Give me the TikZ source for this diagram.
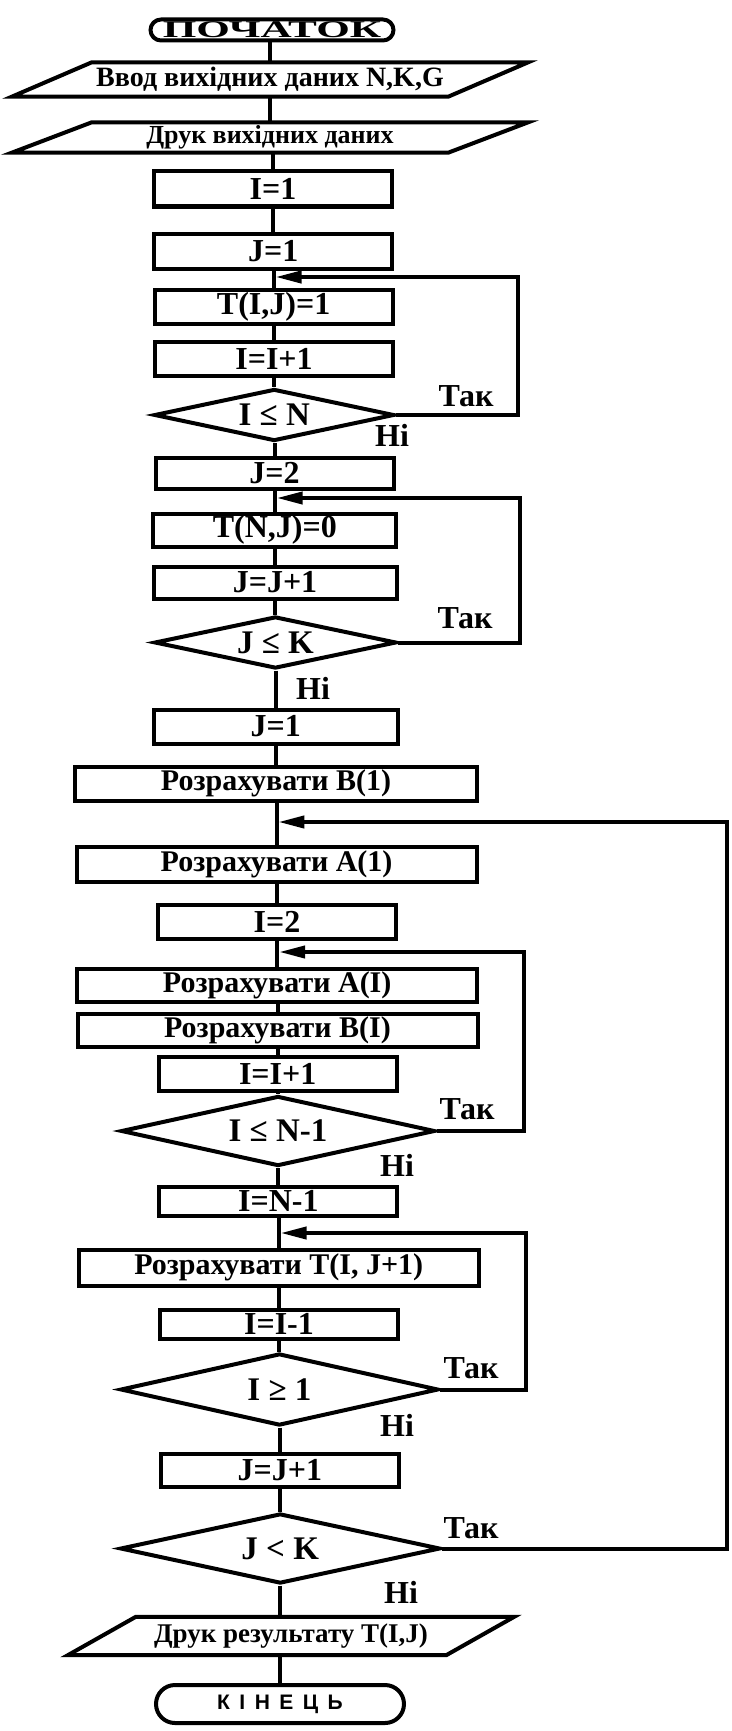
\documentclass[tikz,border=0pt]{standalone}
\usepackage{fontspec}
\setmainfont{Liberation Serif}
\newfontfamily\endfont[LetterSpace=45]{Liberation Sans}
\usetikzlibrary{shapes.geometric,arrows.meta,calc}
\tikzset{
  ln/.style={line width=4pt},
  box/.style={draw, rectangle, line width=4pt, inner sep=0pt, fill=white, font=\bfseries\fontsize{32}{32}\selectfont},
  nbox/.style={box, minimum width=238pt},
  wbox/.style={box, minimum width=402pt, font=\bfseries\fontsize{30}{30}\selectfont},
  dec/.style={draw, diamond, aspect=4.4, line width=4pt, inner sep=0pt, fill=white, font=\bfseries\fontsize{33}{33}\selectfont},
  pbox/.style={rectangle, inner sep=0pt, font=\bfseries\fontsize{26}{26}\selectfont},
  term/.style={draw, rectangle, line width=4pt, inner sep=0pt, fill=white},
  lbl/.style={inner sep=0pt, font=\bfseries\fontsize{32}{32}\selectfont},
  back/.style={ln, -{Triangle[length=26pt,width=12pt]}, shorten >=2pt}
}
\begin{document}
\begin{tikzpicture}[x=1pt,y=-1pt]
\useasboundingbox (0,0) rectangle (731,1731);
% terminals and parallelograms
\node[term, minimum width=243pt, minimum height=21pt, rounded corners=10.5pt] (start) at (272,30)
  {\bfseries\fontsize{24}{24}\selectfont\scalebox{1.8}[1]{ПОЧАТОК}};
\node[pbox, minimum width=436pt, minimum height=34pt, font=\bfseries\fontsize{28}{28}\selectfont] (p1) at (270,79.5) {Ввод вихідних даних N,K,G};
\draw[ln] ($(p1.south west)+(-40,0)$) -- ($(p1.south east)+(-40,0)$) -- ($(p1.north east)+(40,0)$) -- ($(p1.north west)+(40,0)$) -- cycle;
\node[pbox, minimum width=436pt, minimum height=30pt] (p2) at (270,137.5) {Друк вихідних даних};
\draw[ln] ($(p2.south west)+(-40,0)$) -- ($(p2.south east)+(-40,0)$) -- ($(p2.north east)+(40,0)$) -- ($(p2.north west)+(40,0)$) -- cycle;
% first loop
\node[nbox, minimum height=35pt] (i1) at (273,189) {I=1};
\node[nbox, minimum height=35pt] (j1) at (273.3,251) {J=1};
\node[nbox, minimum height=34pt] (t1) at (273.6,306.5) {T(I,J)=1};
\node[nbox, minimum height=34pt] (ii1) at (274,358.5) {I=I+1};
\node[dec, minimum width=240pt, minimum height=52pt] (d1) at (274.2,415) {I ≤ N};
% second loop
\node[nbox, minimum height=31pt] (j2) at (274.5,473) {J=2};
\node[nbox, minimum width=243pt, minimum height=33pt] (t2) at (274.8,530) {T(N,J)=0};
\node[nbox, minimum width=243pt, minimum height=32pt] (jj1) at (275,582.5) {J=J+1};
\node[dec, minimum width=242pt, minimum height=52pt] (d2) at (275.4,642.5) {J ≤ K};
% main part
\node[nbox, minimum width=244pt, minimum height=34pt] (j3) at (275.8,726.5) {J=1};
\node[wbox, minimum height=34pt] (b1) at (276,783.5) {Розрахувати B(1)};
\node[wbox, minimum width=400pt, minimum height=35pt] (a1) at (276.6,864) {Розрахувати A(1)};
\node[nbox, minimum height=34pt] (i2) at (277,921.5) {I=2};
\node[wbox, minimum width=400pt, minimum height=33pt] (aI) at (277.2,985) {Розрахувати A(I)};
\node[wbox, minimum width=400pt, minimum height=33pt] (bI) at (277.5,1030) {Розрахувати B(I)};
\node[nbox, minimum height=34pt] (ii2) at (277.7,1073.5) {I=I+1};
\node[dec, minimum width=314pt, minimum height=70pt] (d3) at (278,1131) {I ≤ N-1};
\node[nbox, minimum height=29pt] (in1) at (278.4,1201) {I=N-1};
\node[wbox, minimum width=400pt, minimum height=36pt] (tij) at (278.7,1267.5) {Розрахувати T(I, J+1)};
\node[nbox, minimum height=29pt] (im1) at (279,1324) {I=I-1};
\node[dec, minimum width=318pt, minimum height=72pt] (d4) at (279.4,1389.5) {I ≥ 1};
\node[nbox, minimum height=33pt] (jj2) at (279.8,1470) {J=J+1};
\node[dec, minimum width=320pt, minimum height=70pt] (d5) at (280.2,1548.5) {J < K};
\node[pbox, minimum width=378pt, minimum height=38pt, font=\bfseries\fontsize{27}{27}\selectfont] (p3) at (291,1636) {Друк результату T(I,J)};
\draw[ln] ($(p3.south west)+(-34,0)$) -- ($(p3.south east)+(-34,0)$) -- ($(p3.north east)+(34,0)$) -- ($(p3.north west)+(34,0)$) -- cycle;
\node[term, minimum width=248pt, minimum height=38pt, rounded corners=19pt] (end) at (280,1704)
  {\endfont\bfseries\fontsize{21}{21}\selectfont КІНЕЦЬ};
% main flow
\foreach \a/\b in {start/p1,p1/p2,p2/i1,i1/j1,j1/t1,t1/ii1,ii1/d1,d1/j2,j2/t2,t2/jj1,jj1/d2,d2/j3,j3/b1,b1/a1,a1/i2,i2/aI,aI/bI,bI/ii2,ii2/d3,d3/in1,in1/tij,tij/im1,im1/d4,d4/jj2,jj2/d5,p3/end}
  \draw[ln] (\b.north |- \a.south) -- (\b.north);
\draw[ln] (d5.south) -- (d5.south |- p3.north);
% loop junctions and corners
\coordinate (jn1) at (273.5,277);  \coordinate (r1) at (518,277);
\coordinate (jn2) at (274.7,498);  \coordinate (r2) at (520,498);
\coordinate (jn3) at (276.3,822);  \coordinate (r3) at (727,822);
\coordinate (jn4) at (277.1,952);  \coordinate (r4) at (524,952);
\coordinate (jn5) at (278.6,1233); \coordinate (r5) at (526,1233);
\draw[back] (d1.east) -| (r1) -- (jn1);
\draw[back] (d2.east) -| (r2) -- (jn2);
\draw[back] (d5.east) -| (r3) -- (jn3);
\draw[back] (d3.east) -| (r4) -- (jn4);
\draw[back] (d4.east) -| (r5) -- (jn5);
% labels
\node[lbl] (y1) at (466,396) {Так};
\node[lbl] (n1) at (392,435) {Ні};
\node[lbl] (y2) at (465,618) {Так};
\node[lbl] (n2) at (313,688) {Ні};
\node[lbl] (y3) at (467,1109) {Так};
\node[lbl] (n3) at (397,1165) {Ні};
\node[lbl] (y4) at (471,1368) {Так};
\node[lbl] (n4) at (397,1425) {Ні};
\node[lbl] (y5) at (471,1528) {Так};
\node[lbl] (n5) at (401,1592) {Ні};
\end{tikzpicture}
\end{document}
